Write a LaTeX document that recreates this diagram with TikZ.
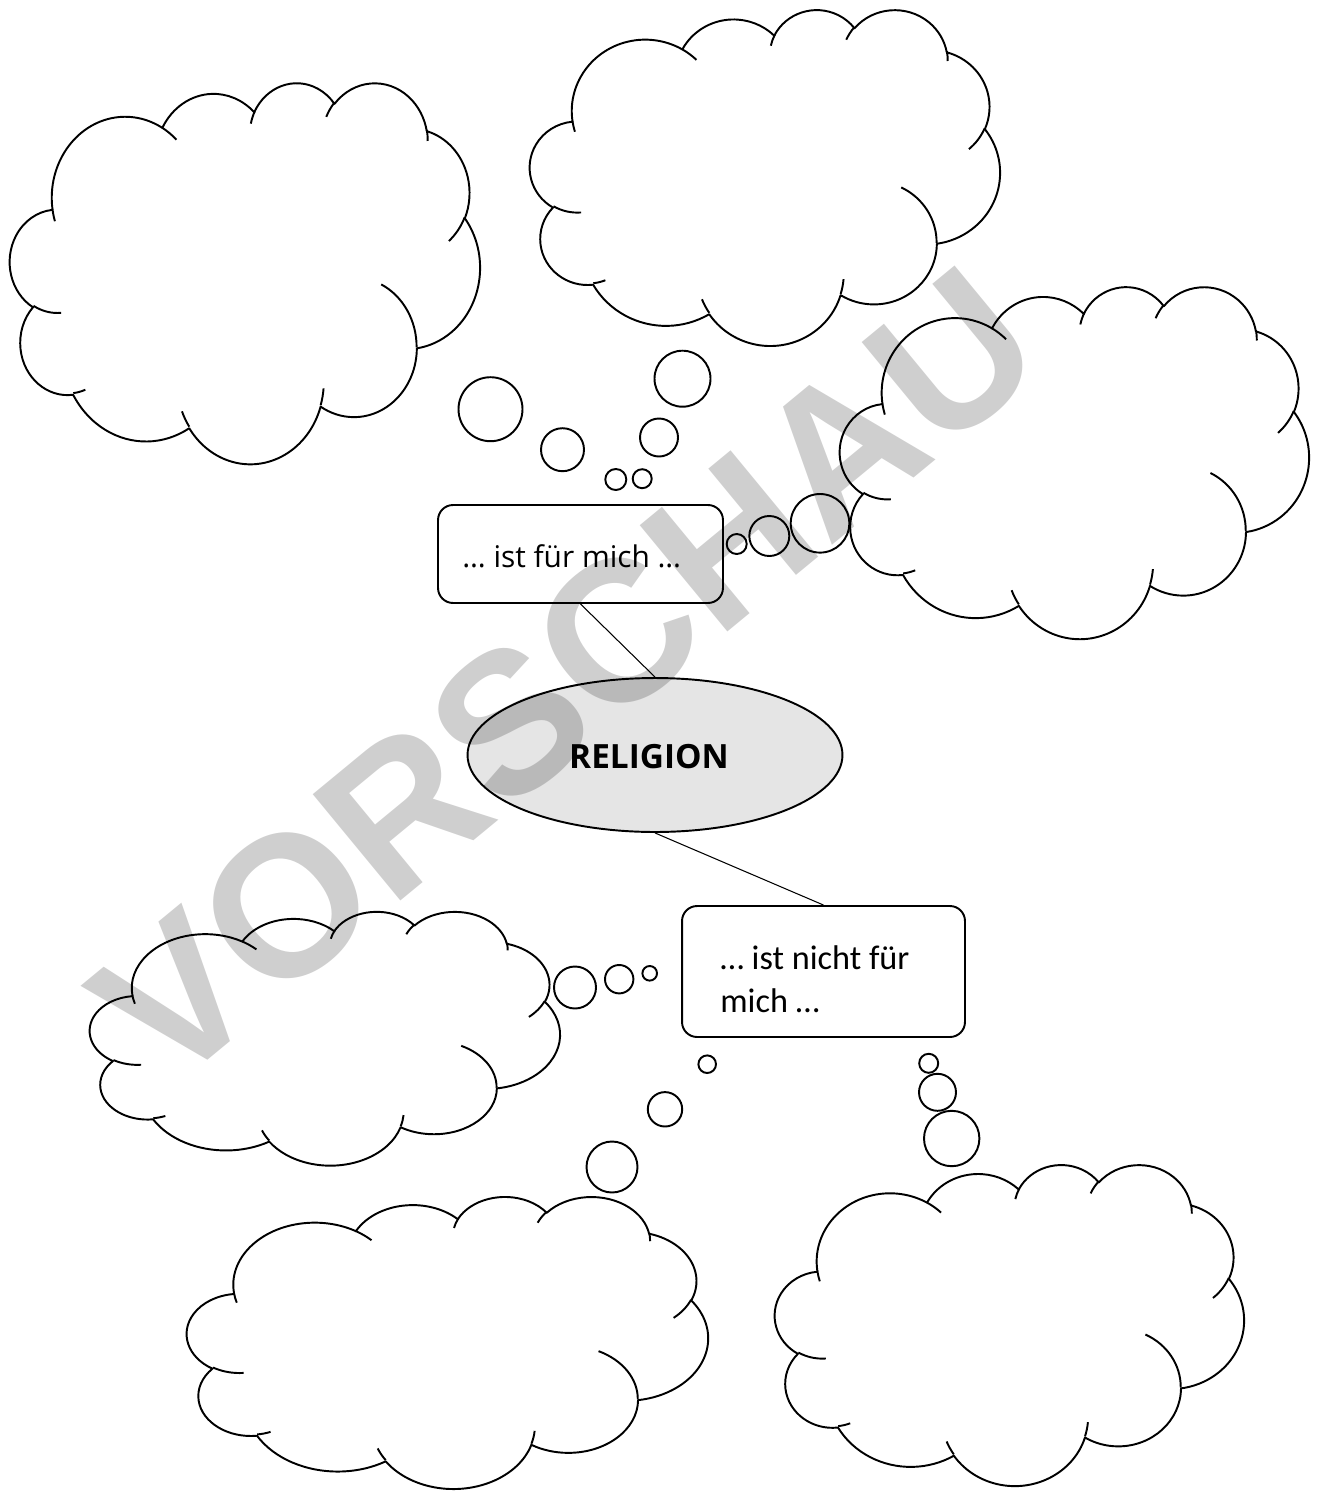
\documentclass[tikz,border=0pt]{standalone}
\usepackage{fontspec}
\setmainfont{Open Sans}
\newfontfamily\calibrifont{Carlito}
\newfontfamily\wmfont{Liberation Sans}
\usetikzlibrary{shapes.geometric}

% OOXML-style arcTo (visual angles converted to parametric angles)
\newcommand\oa[4]{arc[x radius=#1, y radius=#2, start angle={atan2((#1)*sin(#3),(#2)*cos(#3))}, delta angle={mod(atan2((#1)*sin((#3)+(#4)),(#2)*cos((#3)+(#4)))-atan2((#1)*sin(#3),(#2)*cos(#3))+720,360)}]}

\tikzset{
  wolke/.style={line width=1.1pt, line join=round, draw=black},
  blase/.style={line width=1.1pt, draw=black},
  kasten/.style={draw=black, line width=1.1pt, rounded corners=0.3cm, fill=white, inner sep=0pt},
  kastentext/.style={anchor=base west, inner sep=0pt, align=left},
  verbinder/.style={draw=black, line width=0.6pt},
  wm/.style={font=\wmfont\bfseries\fontsize{114}{114}\selectfont, text=black, text opacity=0.19, rotate=39.5, inner sep=0pt}
}

% cloud: x0 y0 width height (pixel units, y down)
\newcommand\wolke[4]{%
  \pgfmathsetmacro\wx{#3*0.02/432}%
  \pgfmathsetmacro\wy{-#4*0.02/432}%
  \begin{scope}[shift={(#1,#2)}, x=\wx cm, y=\wy cm]
    \filldraw[wolke, fill=white] (39,143.7)
      \oa{67.53}{91.90}{-190.487}{123.781}
      \oa{53.33}{72.67}{-144.102}{89.945}
      \oa{43.65}{59.45}{-145.808}{99.723}
      \oa{48.57}{65.95}{-130.986}{117.242}
      \oa{53.33}{72.73}{-78.709}{109.027}
      \oa{67.75}{92.20}{-46.267}{130.269}
      \oa{57.85}{78.67}{0.625}{114.033}
      \oa{67.52}{92.15}{22.452}{115.173}
      \oa{77.20}{105.43}{66.243}{75.711}
      \oa{43.60}{59.18}{-274.942}{146.736}
      \oa{43.45}{59.45}{-246.829}{152.519} -- cycle;
    \draw[wolke]
      (46.93,261.77) \oa{43.45}{59.45}{86.742}{26.431}
      (69.28,348.99) \oa{43.60}{59.18}{73.610}{11.447}
      (164.78,390.90) \oa{67.52}{92.15}{137.624}{14.081}
      (288.27,347.51) \oa{67.52}{92.15}{6.453}{15.998}
      (341.29,229.54) \oa{57.85}{78.67}{-70.292}{70.917}
      (417.98,153.54) \oa{53.33}{72.73}{30.318}{27.752}
      (383.24,54.26) \oa{48.57}{65.95}{-13.744}{14.859}
      (290.78,39.52) \oa{48.57}{65.95}{-149.181}{18.195}
      (221.41,47.20) \oa{43.65}{59.45}{-163.494}{17.686}
      (140.00,51.92) \oa{67.53}{91.90}{-66.707}{12.319}
      (41.27,157.89) \oa{67.53}{91.90}{157.654}{11.858};
  \end{scope}}

\begin{document}
\begin{tikzpicture}[x=0.02cm, y=-0.02cm]
\useasboundingbox (0,0) rectangle (1320,1491);
\fill[white] (0,0) rectangle (1320,1491);

% clouds
\wolke{10}{82}{470}{381}
\wolke{530}{9}{470}{336}
\wolke{840}{286}{469}{352}
\wolke{90}{911}{470}{254}
\wolke{187}{1196}{521}{292}
\wolke{775}{1164}{469}{321}

% thought bubbles
\draw[blase] (490.5,409.2) circle[radius=32];
\draw[blase] (562.5,449.7) circle[radius=21.5];
\draw[blase] (615.8,479.5) circle[radius=10.5];
\draw[blase] (642.2,478.7) circle[radius=9.5];
\draw[blase] (659,437.5) circle[radius=19];
\draw[blase] (682.5,378.7) circle[radius=28];

\draw[blase] (736.7,544) circle[radius=10];
\draw[blase] (769.3,536) circle[radius=20];
\draw[blase] (820,523.3) circle[radius=29.3];

\draw[blase] (575,987.5) circle[radius=21];
\draw[blase] (619.2,979.2) circle[radius=14.2];
\draw[blase] (649.7,973.3) circle[radius=7.3];

\draw[blase] (707.2,1064.2) circle[radius=8.8];
\draw[blase] (665,1109.3) circle[radius=17.2];
\draw[blase] (612,1167) circle[radius=25.5];

\draw[blase] (928.7,1063.3) circle[radius=9.5];
\draw[blase] (937.5,1092.3) circle[radius=18.5];
\draw[blase] (951.7,1138.5) circle[radius=27.7];

% boxes and centre
\node[kasten, minimum width=5.7cm, minimum height=1.96cm] (fuer) at (580.5,554) {};
\node[kastentext, font=\fontsize{17}{20}\selectfont] (fuertext) at (462,567) {… ist für mich …};

\node[ellipse, draw=black, line width=1.1pt, fill=black!10, inner sep=0pt,
      minimum width=7.5cm, minimum height=3.08cm] (religion) at (655,755) {};
\node[font=\bfseries\fontsize{19}{22}\selectfont, inner sep=0pt] (religiontext) at (649,757) {RELIGION};

\node[kasten, minimum width=5.66cm, minimum height=2.62cm] (nichtfuer) at (823.5,971.5) {};
\node[kastentext, font=\calibrifont\fontsize{19.5}{24.4}\selectfont] (nichtfuertext) at (720,1012)
      {… ist nicht für\\ mich …};

\draw[verbinder] (fuer.south) -- (religion.north);
\draw[verbinder] (religion.south) -- (nichtfuer.north);

% watermark
\node[wm] (wasserzeichen) at (566,676) {VORSCHAU};
\end{tikzpicture}
\end{document}
